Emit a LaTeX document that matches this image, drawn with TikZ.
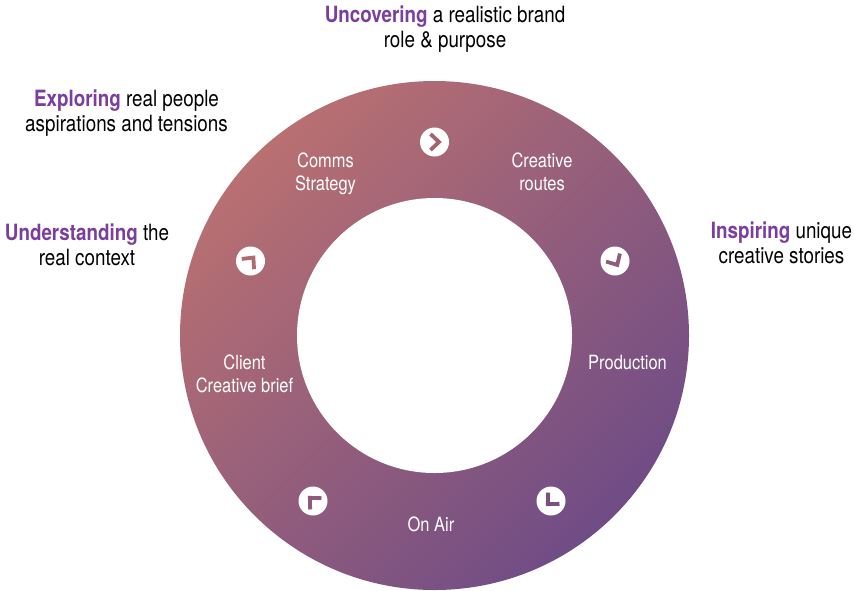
\documentclass[tikz,border=0pt]{standalone}
\usepackage{fontspec}
\setmainfont[FakeStretch=0.84]{TeX Gyre Heros}
\usepackage{xcolor}
\usetikzlibrary{positioning}
\definecolor{headpurple}{HTML}{7A3E9E}
\definecolor{ringstart}{HTML}{BD7270}
\definecolor{ringend}{HTML}{6B4A87}
\pgfdeclarehorizontalshading{ringshade}{100bp}{
    color(0bp)=(ringstart); color(22bp)=(ringstart); color(78bp)=(ringend); color(100bp)=(ringend)}
\begin{document}
\begin{tikzpicture}
[x=1pt, y=-1pt,
outer/.style={circle, draw=none, minimum size=509pt, inner sep=0pt, shading=ringshade, shading angle=-45},
hole/.style={circle, fill=white, minimum size=275pt, inner sep=0pt},
badge/.style={circle, fill=white, minimum size=29pt, inner sep=0pt},
stage/.style={text=white, align=center, font=\fontsize{19.6}{23}\selectfont},
goal/.style={text=black, align=center, font=\fontsize{22.4}{25}\selectfont},
chevron/.style={line width=3.8pt, miter limit=10},
]
    \useasboundingbox (0,0) rectangle (854,590);
    \node (ring) [outer] at (434.5,335.5) {};
    \node (inner) [hole] at (ring.center) {};

    % stages
    \node (comms) [stage] at (325.5,173.5) {Comms\\Strategy};
    \node (routes) [stage] at (542,172) {Creative\\routes};
    \node (production) [stage] at (627.5,362) {Production};
    \node (onair) [stage] at (431,524) {On Air};
    \node (client) [stage] at (244.5,373.5) {Client\\Creative brief};

    % arrow badges
    \foreach \name/\px/\py/\turn/\shade in {a/434.5/142/0/A5636F, b/615/261/-60/8F5A7C, c/551/501/-135/7C4F83, d/313/501/135/8F5A7B, e/250.5/261/50/AF6B70}{
        \definecolor{chev}{HTML}{\shade}
        \node (badge\name) [badge] at (\px,\py) {};
        \draw[chevron, draw=chev, rotate around={\turn:(badge\name.center)}]
            ([xshift=-4pt,yshift=-8pt]badge\name.center) -- ([xshift=4.5pt]badge\name.center) -- ([xshift=-4pt,yshift=8pt]badge\name.center);
    }

    % goals
    \node (uncovering) [goal] at (445,29.5) {\textbf{\textcolor{headpurple}{Uncovering}} a realistic brand\\role \& purpose};
    \node (exploring) [goal] at (126.5,113.5) {\textbf{\textcolor{headpurple}{Exploring}} real people\\aspirations and tensions};
    \node (understanding) [goal] at (87,245) {\textbf{\textcolor{headpurple}{Understanding}} the\\real context};
    \node (inspiring) [goal] at (781.5,243) {\textbf{\textcolor{headpurple}{Inspiring}} unique\\creative stories};
\end{tikzpicture}
\end{document}
